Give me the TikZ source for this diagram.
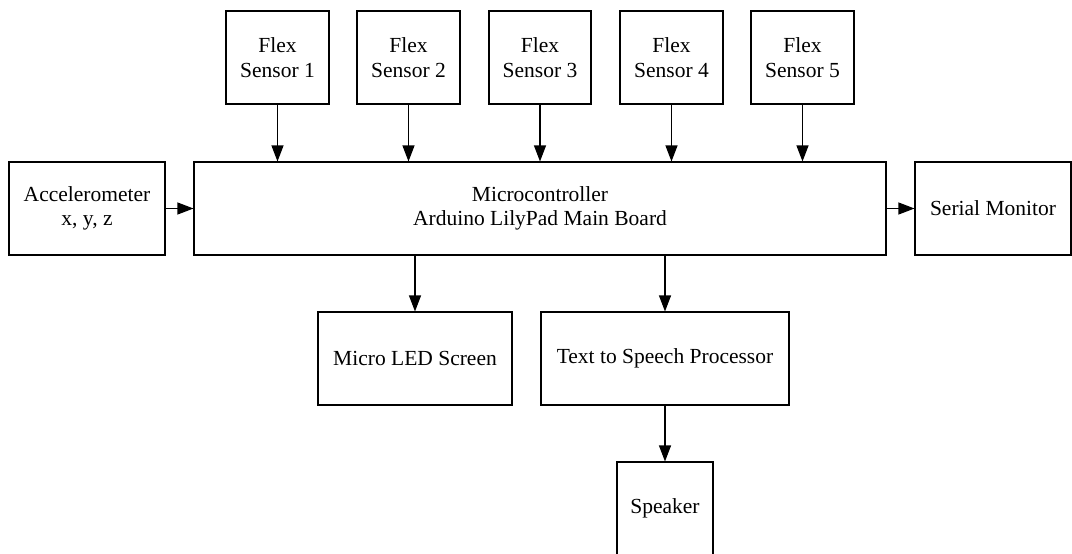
\documentclass[tikz,border=0pt]{standalone}
\usepackage{fontspec}
\setmainfont{Liberation Serif}
\usetikzlibrary{arrows.meta}
\begin{document}
\begin{tikzpicture}[x=1pt,y=-1pt,
  box/.style={draw=black, line width=1.1pt, inner sep=0pt, align=center, font=\fontsize{21.5}{24.5}\selectfont, minimum height=93pt},
  conn/.style={line width=1.1pt, -{Triangle[length=16pt,width=12pt]}}]
\useasboundingbox (0,0) rectangle (1072,554);
\node[box, minimum width=103pt] (f1) at (277.5,57.5) {Flex\\Sensor 1};
\node[box, minimum width=103pt] (f2) at (408.5,57.5) {Flex\\Sensor 2};
\node[box, minimum width=102pt] (f3) at (540,57.5) {Flex\\Sensor 3};
\node[box, minimum width=103pt] (f4) at (671.5,57.5) {Flex\\Sensor 4};
\node[box, minimum width=103pt] (f5) at (802.5,57.5) {Flex\\Sensor 5};
\node[box, minimum width=156pt] (acc) at (87,208.5) {Accelerometer\\x, y, z};
\node[box, minimum width=692pt] (mc) at (540,208.5) {Microcontroller\\Arduino LilyPad Main Board};
\node[box, minimum width=156pt] (ser) at (993,208.5) {Serial Monitor};
\node[box, minimum width=194pt] (led) at (415,358.5) {Micro LED Screen};
\node[box, minimum width=248pt] (tts) at (665,358.5) {Text to Speech Processor\vphantom{M}};
\node[box, minimum width=96pt] (spk) at (665,508.5) {Speaker};
\foreach \f in {f1,f2,f3,f4,f5}{
  \draw[conn] (\f.south) -- (\f.south |- mc.north);
}
\draw[conn] (acc.east) -- (mc.west);
\draw[conn] (mc.east) -- (ser.west);
\draw[conn] (led.north |- mc.south) -- (led.north);
\draw[conn] (tts.north |- mc.south) -- (tts.north);
\draw[conn] (tts.south) -- (spk.north);
\end{tikzpicture}
\end{document}
